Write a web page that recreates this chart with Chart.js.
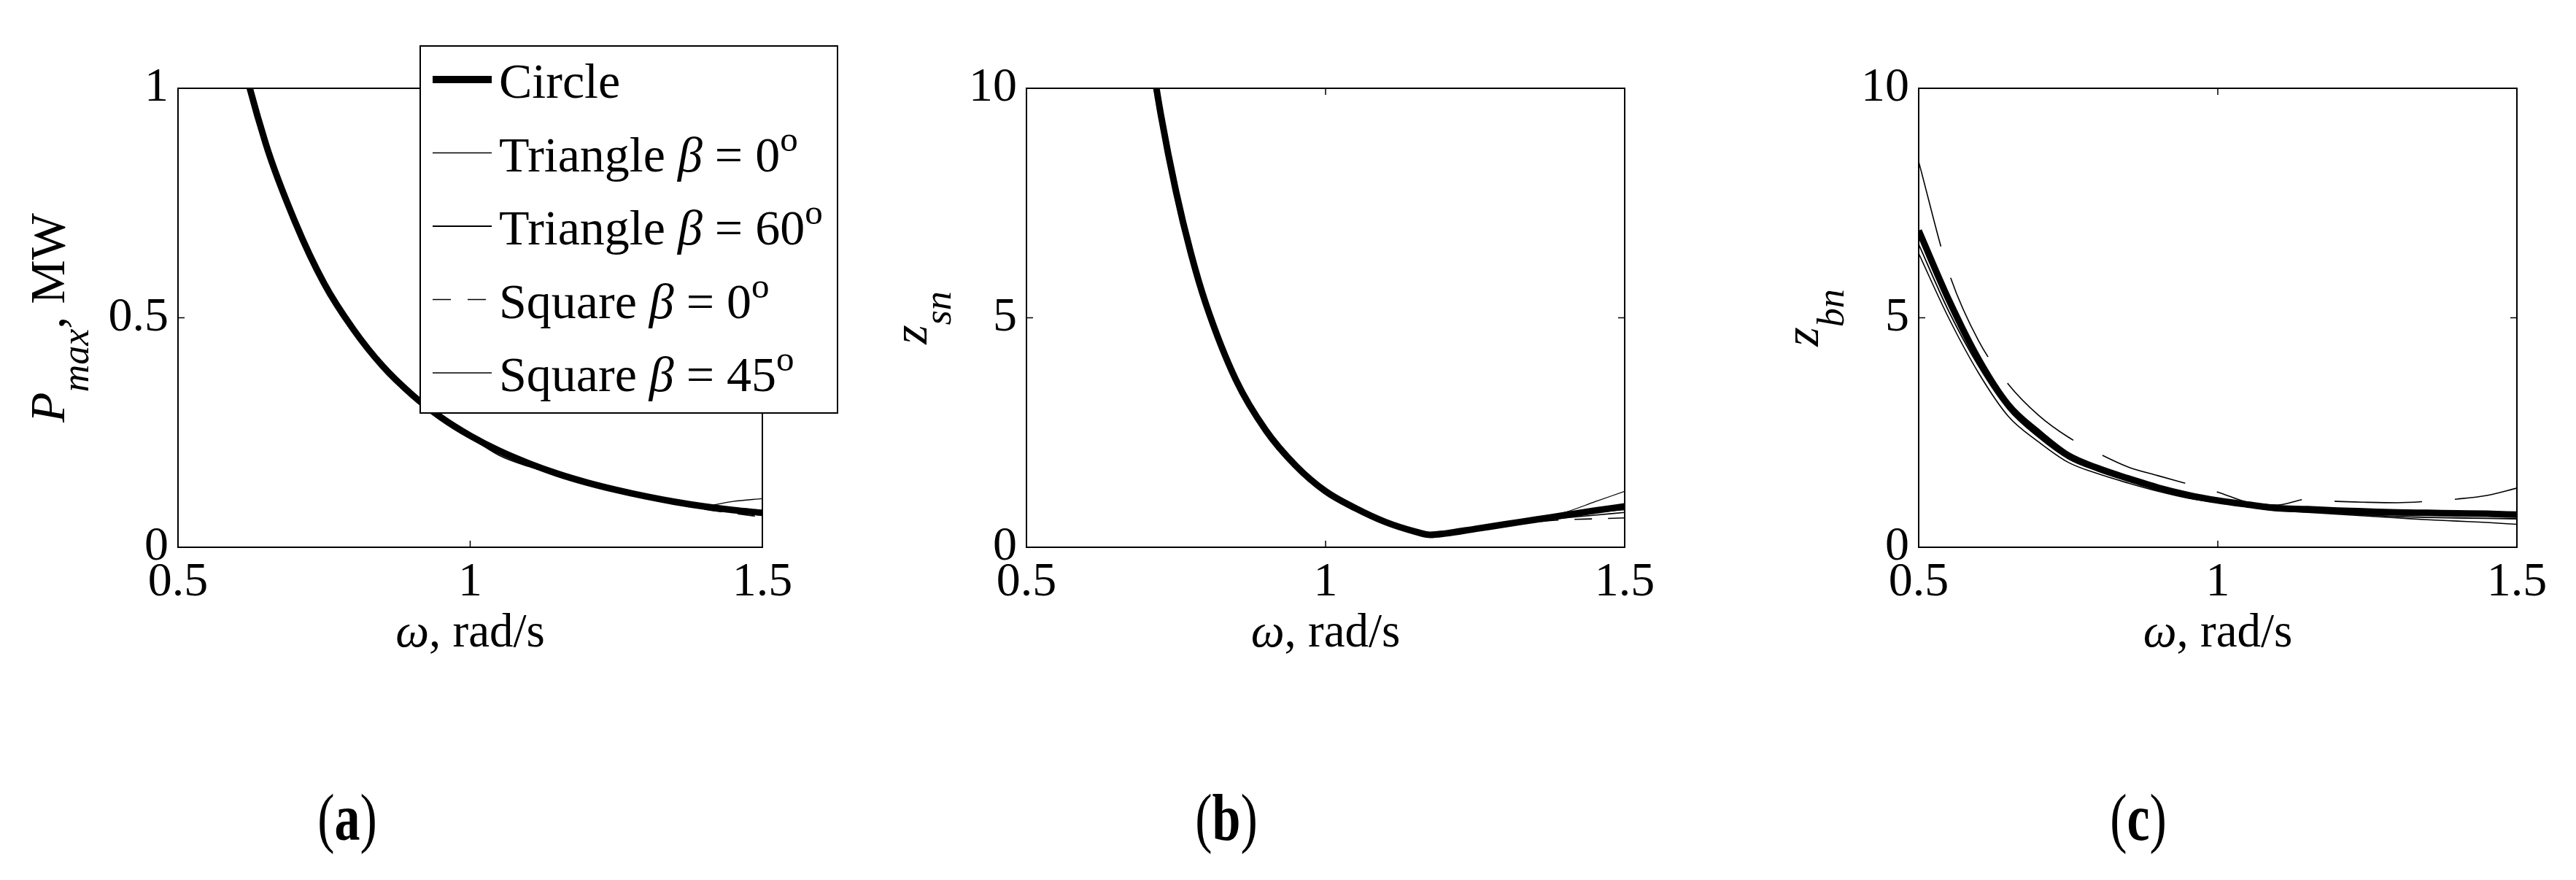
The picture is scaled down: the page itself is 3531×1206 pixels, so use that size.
<!DOCTYPE html>
<html>
<head>
<meta charset="utf-8">
<title>Pmax, zsn, zbn against omega</title>
<script src="https://cdn.jsdelivr.net/npm/chart.js@4.4.1/dist/chart.umd.min.js"></script>
<style>
  html, body { margin: 0; padding: 0; background: #fff; }
  body { width: 3531px; height: 1206px; position: relative; overflow: hidden; }
  canvas { position: absolute; top: 0; }
  .tag {
    position: absolute; top: 1121px;
    font-size: 70px; color: #000;
    line-height: 1; white-space: nowrap;
    transform: translate(-50%, -50%) scaleY(1.3);
  }
  .tag b { font-weight: bold; }
</style>
</head>
<body>
<canvas id="chartA" width="1170" height="950" style="left:0px"></canvas>
<canvas id="chartB" width="1230" height="950" style="left:1170px"></canvas>
<canvas id="chartC" width="1131" height="950" style="left:2400px"></canvas>
<div class="tag" style="left:476px">(<b>a</b>)</div>
<div class="tag" style="left:1681px">(<b>b</b>)</div>
<div class="tag" style="left:2931px">(<b>c</b>)</div>
<script>
// pick the first installed Times-like face
function pickSerif(list) {
  const c = document.createElement('canvas').getContext('2d');
  const probe = 'Triangle Square 0.5 ωβ';
  for (const f of list) {
    let same = true;
    for (const base of ['monospace', 'sans-serif']) {
      c.font = '60px ' + base;
      const w0 = c.measureText(probe).width;
      c.font = "60px '" + f + "', " + base;
      if (Math.abs(c.measureText(probe).width - w0) > 0.5) { same = false; }
    }
    if (!same) return "'" + f + "', serif";
  }
  return 'serif';
}
const SERIF = pickSerif(['Liberation Serif', 'Times New Roman', 'Times', 'DejaVu Serif', 'Noto Serif']);
document.querySelectorAll('.tag').forEach(el => { el.style.fontFamily = SERIF; });

// frequency grid, rad/s
const omega = [0.5, 0.55, 0.6, 0.65, 0.7, 0.75, 0.8, 0.85, 0.9, 0.95, 1.0,
               1.05, 1.1, 1.15, 1.2, 1.25, 1.3, 1.35, 1.4, 1.45, 1.5];
const omegaB = [0.7, 0.725, 0.75, 0.775, 0.8, 0.85, 0.9, 0.95, 1.0, 1.05,
                1.1, 1.15, 1.175, 1.2, 1.25, 1.3, 1.35, 1.4, 1.45, 1.5];
const seriesNames = ["Circle", "Triangle β = 0°", "Triangle β = 60°", "Square β = 0°", "Square β = 45°"];
const xTicks = [0.5, 1, 1.5];
const yTicksA = [0, 0.5, 1];
const yTicksBC = [0, 5, 10];

// (a) Pmax, MW
const pCircle = [1.94, 1.46, 1.12, 0.88, 0.71, 0.575, 0.475, 0.395, 0.333, 0.283, 0.243, 0.21, 0.183, 0.16, 0.141, 0.125, 0.111, 0.099, 0.089, 0.081, 0.075];
const pTri0   = [1.94, 1.46, 1.12, 0.88, 0.71, 0.575, 0.474, 0.394, 0.332, 0.281, 0.24, 0.2, 0.176, 0.157, 0.139, 0.123, 0.109, 0.097, 0.087, 0.079, 0.072];
const pTri60  = [1.94, 1.46, 1.12, 0.88, 0.71, 0.575, 0.476, 0.396, 0.333, 0.282, 0.241, 0.203, 0.178, 0.158, 0.14, 0.124, 0.11, 0.098, 0.089, 0.083, 0.08];
const pSq0    = [1.94, 1.46, 1.12, 0.88, 0.71, 0.575, 0.475, 0.395, 0.333, 0.283, 0.243, 0.208, 0.181, 0.158, 0.139, 0.123, 0.108, 0.095, 0.083, 0.074, 0.066];
const pSq45   = [1.94, 1.46, 1.12, 0.88, 0.71, 0.575, 0.475, 0.395, 0.333, 0.283, 0.243, 0.21, 0.183, 0.16, 0.141, 0.125, 0.112, 0.101, 0.09, 0.1, 0.106];

// (b) z_sn on omegaB
const zsCircle = [11.4, 9.4, 7.75, 6.4, 5.3, 3.65, 2.55, 1.78, 1.22, 0.85, 0.55, 0.34, 0.27, 0.3, 0.4, 0.5, 0.6, 0.7, 0.8, 0.89];
const zsTri0   = [11.4, 9.4, 7.75, 6.4, 5.3, 3.65, 2.55, 1.78, 1.22, 0.85, 0.55, 0.34, 0.27, 0.3, 0.4, 0.49, 0.57, 0.64, 0.7, 0.76];
const zsTri60  = [11.4, 9.4, 7.75, 6.4, 5.3, 3.65, 2.55, 1.78, 1.22, 0.85, 0.55, 0.34, 0.27, 0.3, 0.4, 0.5, 0.59, 0.68, 0.76, 0.82];
const zsSq0    = [11.4, 9.4, 7.75, 6.4, 5.3, 3.65, 2.55, 1.78, 1.22, 0.85, 0.55, 0.34, 0.27, 0.3, 0.39, 0.48, 0.55, 0.6, 0.62, 0.64];
const zsSq45   = [11.4, 9.4, 7.75, 6.4, 5.3, 3.65, 2.55, 1.78, 1.22, 0.85, 0.55, 0.34, 0.27, 0.3, 0.4, 0.51, 0.62, 0.76, 0.99, 1.22];

// (c) z_bn on omega
const zbCircle = [6.9, 5.4, 4.1, 3.1, 2.5, 2.0, 1.72, 1.5, 1.3, 1.14, 1.02, 0.93, 0.85, 0.83, 0.8, 0.78, 0.76, 0.75, 0.74, 0.73, 0.71];
const zbTri0   = [6.4, 5.0, 3.8, 2.85, 2.3, 1.85, 1.6, 1.4, 1.22, 1.07, 0.97, 0.88, 0.8, 0.76, 0.72, 0.68, 0.64, 0.6, 0.57, 0.54, 0.5];
const zbTri60  = [6.6, 5.15, 3.95, 3.0, 2.4, 1.93, 1.66, 1.45, 1.26, 1.1, 0.99, 0.9, 0.83, 0.78, 0.74, 0.7, 0.67, 0.65, 0.64, 0.63, 0.62];
const zbSq0    = [8.4, 6.0, 4.5, 3.55, 2.88, 2.4, 2.05, 1.75, 1.56, 1.38, 1.2, 0.98, 0.92, 1.05, 1.0, 0.98, 0.97, 1.0, 1.05, 1.13, 1.29];
const zbSq45   = [6.8, 5.3, 4.0, 3.05, 2.45, 1.97, 1.7, 1.48, 1.28, 1.12, 1.0, 0.91, 0.84, 0.8, 0.77, 0.75, 0.73, 0.71, 0.7, 0.68, 0.66];

const lineWidths = [9, 1.6, 1.8, 1.6, 1.3];

function points(xs, ys) {
  return xs.map((x, i) => ({ x: x, y: ys[i] }));
}

function buildDatasets(xs, list, sqDash) {
  return list.map((ys, i) => ({
    label: seriesNames[i],
    data: points(xs, ys),
    borderColor: '#000',
    borderWidth: lineWidths[i],
    borderDash: i === 3 ? sqDash : [],
    pointRadius: 0,
    fill: false,
    cubicInterpolationMode: 'monotone',
    clip: 0,
    order: i === 0 ? 10 : i
  }));
}

function fontOf(p) {
  return (p.it ? 'italic ' : '') + p.size + 'px ' + SERIF;
}

// draws a run of text pieces (italic / sub / superscript) starting at x
function drawRich(ctx, parts, x, y, center) {
  let total = 0;
  parts.forEach(p => { ctx.font = fontOf(p); total += ctx.measureText(p.t).width; });
  let cx = center ? x - total / 2 : x;
  parts.forEach(p => {
    ctx.font = fontOf(p);
    ctx.fillText(p.t, cx, y + (p.dy || 0));
    cx += ctx.measureText(p.t).width;
  });
}

function labelParts(label, size) {
  const k = label.indexOf('β');
  if (k < 0) return [{ t: label, size: size }];
  return [
    { t: label.slice(0, k), size: size },
    { t: 'β', it: true, size: size },
    { t: label.slice(k + 1).replace('°', ''), size: size },
    { t: 'o', size: Math.round(size * 0.72), dy: -size * 0.41 }
  ];
}

function makePanel(id, cfg) {
  const extras = {
    id: 'extras_' + id,
    afterDatasetsDraw(chart) {
      const ctx = chart.ctx;
      const a = chart.chartArea;
      const xs = chart.scales.x, ys = chart.scales.y;
      ctx.save();
      ctx.strokeStyle = '#000';
      ctx.lineWidth = 2;
      ctx.strokeRect(a.left, a.top, a.right - a.left, a.bottom - a.top);
      ctx.lineWidth = 1.5;
      const L = 9;
      ctx.beginPath();
      xTicks.forEach(v => {
        const px = xs.getPixelForValue(v);
        ctx.moveTo(px, a.bottom); ctx.lineTo(px, a.bottom - L);
        ctx.moveTo(px, a.top); ctx.lineTo(px, a.top + L);
      });
      cfg.yTicks.forEach(v => {
        const py = ys.getPixelForValue(v);
        ctx.moveTo(a.left, py); ctx.lineTo(a.left + L, py);
        ctx.moveTo(a.right, py); ctx.lineTo(a.right - L, py);
      });
      ctx.stroke();

      // axis titles
      ctx.fillStyle = '#000';
      ctx.textBaseline = 'alphabetic';
      ctx.textAlign = 'left';
      drawRich(ctx, [{ t: 'ω', it: true, size: 65 }, { t: ', rad/s', size: 65 }],
               (a.left + a.right) / 2, a.bottom + 136, true);
      ctx.save();
      ctx.translate(a.left + cfg.yTitleOffset, (a.top + a.bottom) / 2);
      ctx.rotate(-Math.PI / 2);
      drawRich(ctx, cfg.yTitle, 0, 0, true);
      ctx.restore();

      // legend box (panel a only)
      if (cfg.legend) {
        const bx = a.right - 469, by = a.top - 58, bw = 572, bh = 503;
        ctx.fillStyle = '#fff';
        ctx.fillRect(bx, by, bw, bh);
        ctx.lineWidth = 2;
        ctx.strokeStyle = '#000';
        ctx.strokeRect(bx, by, bw, bh);
        chart.data.datasets.forEach((ds, i) => {
          const ry = by + 46 + 100.5 * i;
          ctx.beginPath();
          ctx.lineWidth = i === 0 ? 10 : ds.borderWidth;
          ctx.setLineDash(i === 3 ? [25, 23] : []);
          ctx.moveTo(bx + 17, ry);
          ctx.lineTo(bx + 98, ry);
          ctx.stroke();
          ctx.setLineDash([]);
          ctx.fillStyle = '#000';
          drawRich(ctx, labelParts(ds.label, 68), bx + 108, ry + 25, false);
        });
      }
      ctx.restore();
    }
  };

  const tickFont = { family: SERIF, size: 66 };
  return new Chart(document.getElementById(id), {
    type: 'line',
    data: { datasets: buildDatasets(cfg.xs, cfg.series, cfg.dash) },
    options: {
      responsive: false,
      devicePixelRatio: 1,
      animation: false,
      layout: { padding: { left: 0, right: cfg.padRight, top: 121, bottom: 0 } },
      plugins: { legend: { display: false }, tooltip: { enabled: false } },
      scales: {
        x: {
          type: 'linear', min: 0.5, max: 1.5,
          afterBuildTicks: s => { s.ticks = xTicks.map(v => ({ value: v })); },
          afterFit: s => { s.height = 200; },
          grid: { display: false, drawTicks: false },
          border: { display: false },
          ticks: { color: '#000', padding: 9, maxRotation: 0, font: tickFont, callback: v => String(v) }
        },
        y: {
          type: 'linear', min: 0, max: cfg.yMax,
          afterBuildTicks: s => { s.ticks = cfg.yTicks.map(v => ({ value: v })); },
          afterFit: s => { s.width = cfg.yWidth; },
          grid: { display: false, drawTicks: false },
          border: { display: false },
          ticks: { color: '#000', padding: 13, font: tickFont, callback: v => String(v) }
        }
      }
    },
    plugins: [extras]
  });
}

makePanel('chartA', {
  xs: omega,
  series: [pCircle, pTri0, pTri60, pSq0, pSq45],
  dash: [24, 22],
  yMax: 1, yTicks: yTicksA,
  yWidth: 244, padRight: 125,
  yTitleOffset: -156,
  yTitle: [{ t: 'P', it: true, size: 68 }, { t: 'max', it: true, size: 52, dy: 33 }, { t: ', MW', size: 68 }],
  legend: true
});

makePanel('chartB', {
  xs: omegaB,
  series: [zsCircle, zsTri0, zsTri60, zsSq0, zsSq45],
  dash: [24, 22],
  yMax: 10, yTicks: yTicksBC,
  yWidth: 237, padRight: 173,
  yTitleOffset: -137,
  yTitle: [{ t: 'z', it: true, size: 68 }, { t: 'sn', it: true, size: 52, dy: 33 }],
  legend: false
});

makePanel('chartC', {
  xs: omega,
  series: [zbCircle, zbTri0, zbTri60, zbSq0, zbSq45],
  dash: [120, 45],
  yMax: 10, yTicks: yTicksBC,
  yWidth: 230, padRight: 81,
  yTitleOffset: -138,
  yTitle: [{ t: 'z', it: true, size: 68 }, { t: 'bn', it: true, size: 52, dy: 35 }],
  legend: false
});
</script>
</body>
</html>
